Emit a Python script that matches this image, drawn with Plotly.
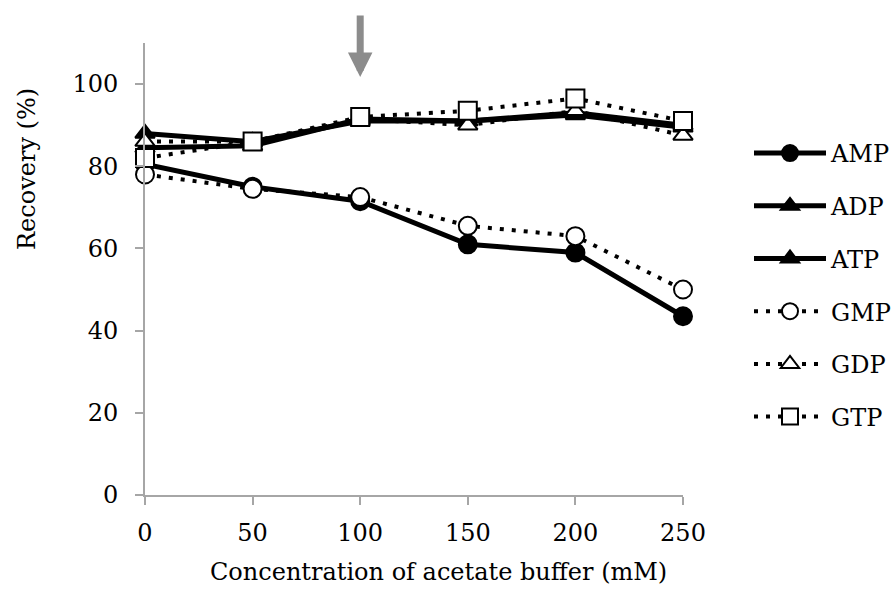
import plotly.graph_objects as go

conc = [0, 50, 100, 150, 200, 250]
amp = [80.5, 75.0, 71.5, 61.0, 59.0, 43.5]
adp = [88.0, 86.0, 91.0, 91.0, 92.5, 89.5]
atp = [84.5, 85.0, 91.5, 91.0, 93.0, 90.0]
gmp = [78.0, 74.5, 72.5, 65.5, 63.0, 50.0]
gdp = [86.0, 86.0, 91.5, 90.0, 93.5, 87.5]
gtp = [82.0, 86.0, 92.0, 93.5, 96.5, 91.0]
x_ticks = [0, 50, 100, 150, 200, 250]
y_ticks = [0, 20, 40, 60, 80, 100]
arrow_at = 100

FONT = "DejaVu Serif"
W, H = 894, 593
ML, MR, MT, MB = 145, 211, 43, 98
PW, PH = W - ML - MR, H - MT - MB

series = [
    ("AMP", amp, "circle", "black", "solid"),
    ("ADP", adp, "triangle-up", "black", "solid"),
    ("ATP", atp, "triangle-up", "black", "solid"),
    ("GMP", gmp, "circle", "white", "4px,8px"),
    ("GDP", gdp, "triangle-up", "white", "4px,8px"),
    ("GTP", gtp, "square", "white", "4px,8px"),
]

fig = go.Figure()
for name, vals, sym, fill, dash in series:
    solid = dash == "solid"
    size = 18 if sym != "triangle-up" else 17
    fig.add_trace(go.Scatter(
        x=conc, y=vals, name=name, mode="lines+markers",
        legendgroup=name,
        line=dict(color="black", width=5 if solid else 4, dash=dash),
        marker=dict(symbol=sym, size=size, color=fill,
                    line=dict(color="black", width=2)),
        cliponaxis=False,
    ))

fig.update_layout(
    width=W, height=H,
    margin=dict(l=ML, r=MR, t=MT, b=MB, pad=0, autoexpand=False),
    paper_bgcolor="white", plot_bgcolor="white",
    font=dict(family=FONT, size=24, color="black"),
    showlegend=True,
    legend=dict(
        x=(749 - ML) / PW, xanchor="left",
        y=(H - MB - 131) / PH, yanchor="top",
        font=dict(family=FONT, size=24, color="black"),
        itemwidth=72, tracegroupgap=18.5,
        bgcolor="rgba(0,0,0,0)",
    ),
    xaxis=dict(
        range=[0, 250], tickvals=x_ticks, ticktext=[str(v) for v in x_ticks],
        showgrid=False, zeroline=False, showline=True,
        linecolor="#a6a6a6", linewidth=2,
        ticks="outside", ticklen=8, tickwidth=2, tickcolor="#a6a6a6",
        tickfont=dict(family=FONT, size=24), ticklabelstandoff=7,
    ),
    yaxis=dict(
        range=[0, 110], tickvals=y_ticks, ticktext=[str(v) for v in y_ticks],
        showgrid=False, zeroline=False, showline=True,
        linecolor="#a6a6a6", linewidth=2,
        ticks="outside", ticklen=8, tickwidth=2, tickcolor="#a6a6a6",
        tickfont=dict(family=FONT, size=24), ticklabelstandoff=12,
    ),
    annotations=[
        dict(text="Concentration of acetate buffer (mM)", xref="paper", yref="paper",
             x=(438 - ML) / PW, y=-(572 - (H - MB)) / PH, xanchor="center", yanchor="middle",
             showarrow=False, font=dict(family=FONT, size=24)),
        dict(text="Recovery (%)", xref="paper", yref="paper",
             x=-(ML - 27) / PW, y=(H - MB - 169) / PH, xanchor="center", yanchor="middle",
             textangle=-90, showarrow=False, font=dict(family=FONT, size=24)),
        dict(x=arrow_at, y=(H - MB - 77) / (PH / 110), xref="x", yref="y",
             ax=0, ay=-63, showarrow=True, arrowhead=2, arrowsize=0.7,
             arrowwidth=7, arrowcolor="#8c8c8c", text=""),
    ],
)

fig.write_html("out.html")
